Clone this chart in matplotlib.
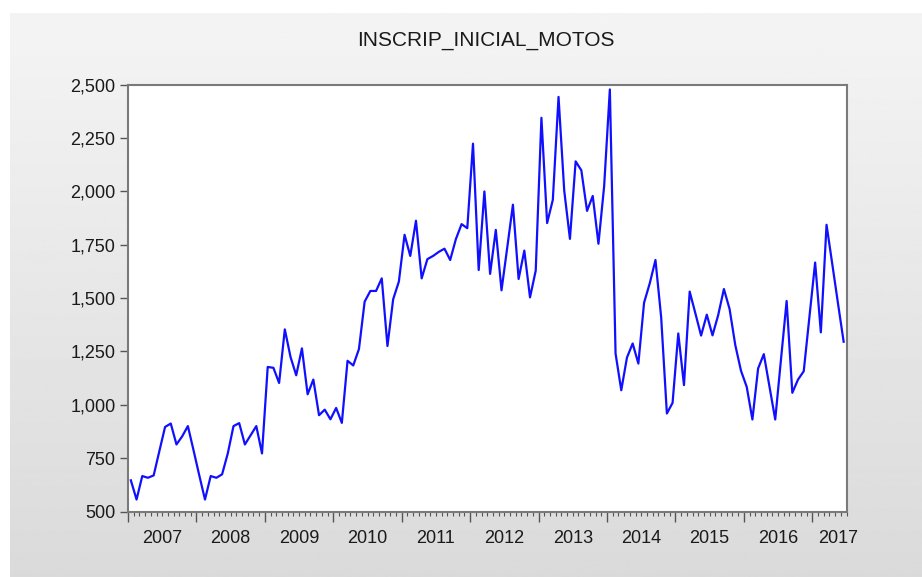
import numpy as np
import matplotlib
matplotlib.use("Agg")
import matplotlib.pyplot as plt

plt.rcParams['font.family'] = ['Liberation Sans', 'DejaVu Sans']

title = "INSCRIP_INICIAL_MOTOS"
start_year = 2007
year_labels = ['2007', '2008', '2009', '2010', '2011', '2012',
               '2013', '2014', '2015', '2016', '2017']

v2007 = [646, 556, 666, 658, 669, 783, 896, 912, 814, 852, 900, 786]
v2008 = [669, 556, 666, 658, 674, 772, 900, 914, 814, 857, 900, 772]
v2009 = [1177, 1173, 1102, 1353, 1224, 1138, 1264, 1049, 1118, 951, 977, 932]
v2010 = [985, 915, 1206, 1184, 1261, 1483, 1533, 1533, 1592, 1275, 1494, 1577]
v2011 = [1796, 1697, 1862, 1592, 1682, 1697, 1716, 1731, 1678, 1776, 1846, 1827]
v2012 = [2223, 1631, 1999, 1613, 1819, 1536, 1735, 1937, 1589, 1722, 1503, 1628]
v2013 = [2344, 1851, 1960, 2442, 2003, 1777, 2140, 2098, 1908, 1978, 1754, 2024]
v2014 = [2477, 1240, 1068, 1221, 1287, 1193, 1478, 1569, 1678, 1409, 959, 1009]
v2015 = [1334, 1092, 1530, 1428, 1324, 1422, 1325, 1420, 1542, 1448, 1279, 1159]
v2016 = [1084, 931, 1170, 1237, 1084, 931, 1209, 1486, 1056, 1118, 1157, 1412]
v2017 = [1666, 1339, 1843, 1660, 1476, 1295]

values = np.array(v2007 + v2008 + v2009 + v2010 + v2011 + v2012 +
                  v2013 + v2014 + v2015 + v2016 + v2017, dtype=float)
x = np.arange(len(values))

W, H = 922, 577
fig = plt.figure(figsize=(W / 100, H / 100), dpi=100)
fig.patch.set_facecolor('white')

# grey gradient panel
bg = fig.add_axes([10 / W, 0, 1 - 10 / W, 1 - 13 / H], zorder=-5)
grad = np.linspace(0.957, 0.855, 256).reshape(-1, 1)
bg.imshow(grad, cmap='gray', vmin=0, vmax=1, aspect='auto',
          extent=[0, 1, 0, 1], origin='upper')
bg.set_axis_off()

left, right, top, bottom = 128, 846.5, 84.5, 511.5
ax = fig.add_axes([left / W, 1 - bottom / H, (right - left) / W, (bottom - top) / H])
ax.set_facecolor('white')
ax.plot(x, values, color='#1010ff', lw=1.6)

ax.set_xlim(-0.5, len(values) - 0.5)
ax.set_ylim(500, 2500)
yt = np.arange(500, 2501, 250)
ax.set_yticks(yt)
ax.set_yticklabels([f"{v:,}" for v in yt])

n_years = len(year_labels)
major = [12 * k - 0.5 for k in range(n_years)]
minor = [m - 0.5 for m in range(len(values) + 1) if m % 12 != 0]
ax.set_xticks(major)
ax.set_xticklabels([''] * len(major))
ax.set_xticks(minor, minor=True)

for s in ax.spines.values():
    s.set_color('#7a7a7a')
    s.set_linewidth(1.5)

ax.tick_params(axis='y', direction='out', length=6, width=1, color='#555555',
               labelsize=13, pad=3, labelcolor='#1a1a1a')
ax.tick_params(axis='x', which='major', direction='out', length=7, width=1,
               color='#555555')
ax.tick_params(axis='x', which='minor', direction='out', length=3, width=0.8,
               color='#555555')

centers = [12 * k + 5.5 for k in range(n_years - 1)] + [124.0]
sec = ax.secondary_xaxis('bottom')
sec.set_xticks(centers)
sec.set_xticklabels(year_labels)
sec.tick_params(length=0, pad=13, labelsize=13, labelcolor='#1a1a1a')
sec.spines['bottom'].set_visible(False)

fig.text(486 / W, 1 - 40.5 / H, title, ha='center', va='center',
         fontsize=15, color='#1a1a1a')

fig.savefig('out.png', dpi=100)
